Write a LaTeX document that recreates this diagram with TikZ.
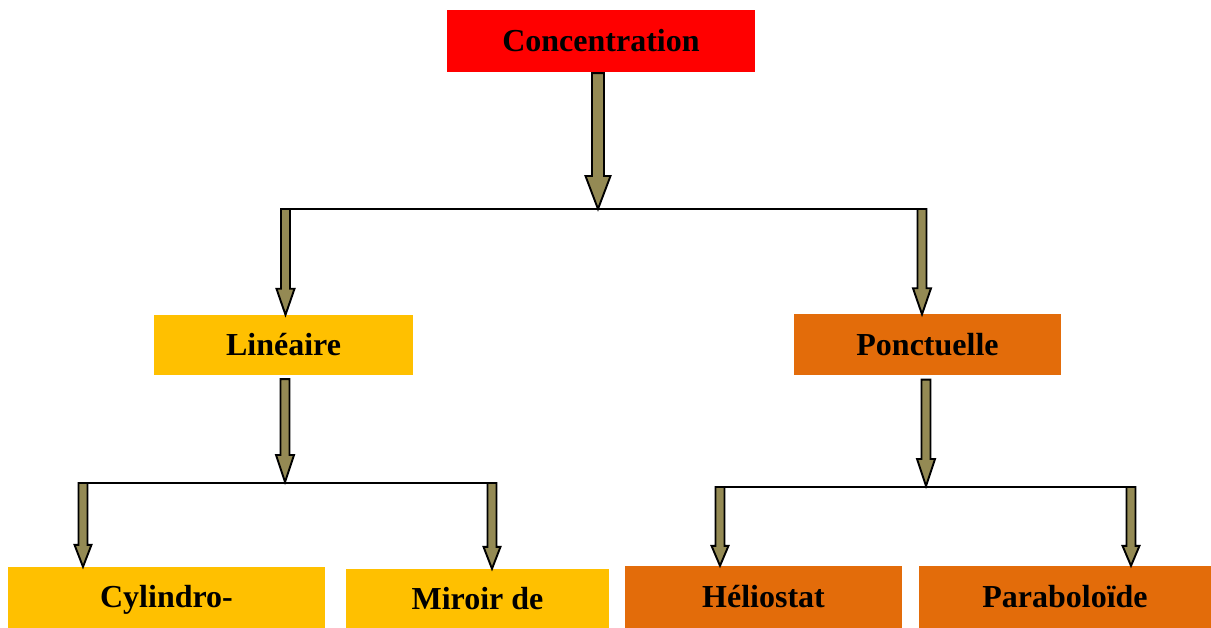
\documentclass[tikz,border=0pt]{standalone}
\usepackage{fontspec}
\setmainfont{Liberation Serif}
\usetikzlibrary{calc}
\definecolor{cred}{HTML}{FF0000}
\definecolor{cyel}{HTML}{FFC000}
\definecolor{corg}{HTML}{E36C0A}
\definecolor{olv}{HTML}{948A54}
\tikzset{
  box/.style={draw=none, inner sep=0pt, font=\fontsize{32}{38}\selectfont\bfseries},
  bar/.style={draw=black, line width=2.4pt},
  fatarrow/.style={fill=olv, draw=black, line width=1.9pt, line join=miter},
}
% vertical fat arrow: from, to, half shaft, half head, head length
\newcommand{\vfat}[5]{%
  \path[fatarrow] let \p1=(#1), \p2=(#2) in
    (\x1-#3,\y1) -- (\x1-#3,\y2+#5) -- (\x1-#4,\y2+#5) -- (\x1,\y2)
    -- (\x1+#4,\y2+#5) -- (\x1+#3,\y2+#5) -- (\x1+#3,\y1) -- cycle;}
\begin{document}
\begin{tikzpicture}[x=1pt,y=-1pt]
\useasboundingbox (0,0) rectangle (1211,628);
\clip (0,0) rectangle (1211,628);
% boxes
\node[box, fill=cred, minimum width=308pt, minimum height=62pt] (conc) at (601,41) {Concentration};
\node[box, fill=cyel, minimum width=259pt, minimum height=60pt] (lin) at (283.5,345) {Linéaire};
\node[box, fill=corg, minimum width=267pt, minimum height=61pt] (pon) at (927.5,345) {Ponctuelle};
\node[box, fill=cyel, minimum width=317pt, minimum height=66pt] (cyl) at (166.5,600) {Cylindro-};
\node[box, fill=cyel, minimum width=263pt, minimum height=60pt] (mir) at (477.5,599) {Miroir de};
\node[box, fill=corg, minimum width=277pt, minimum height=62pt] (hel) at (763.5,597) {Héliostat};
\node[box, fill=corg, minimum width=292pt, minimum height=62pt] (par) at (1065,597) {Paraboloïde};
% bars
\coordinate (b1m) at (598,209);
\coordinate (b1l) at (281,209);
\coordinate (b1r) at (925,209);
\coordinate (b1a) at (285.5,209);
\coordinate (b1b) at (922,209);
\coordinate (b2m) at (285,482);
\coordinate (b2l) at (78,483);
\coordinate (b2r) at (497,483);
\coordinate (b2a) at (83,483);
\coordinate (b2b) at (492,483);
\coordinate (b3m) at (926,486);
\coordinate (b3l) at (717,487);
\coordinate (b3r) at (1133,487);
\coordinate (b3a) at (720,487);
\coordinate (b3b) at (1131,487);
\draw[bar] (b1l) -- (b1r);
\draw[bar] (b2l) -- (b2r);
\draw[bar] (b3l) -- (b3r);
% arrows
\vfat{$(conc.south -| b1m)+(0,1)$}{b1m}{6pt}{12.5pt}{33pt}
\vfat{b1a}{lin.north -| b1a}{4.5pt}{9pt}{26pt}
\vfat{b1b}{pon.north -| b1b}{4.5pt}{9pt}{26pt}
\vfat{$(lin.south -| b2m)+(0,4)$}{b2m}{4.5pt}{9pt}{27pt}
\vfat{$(pon.south -| b3m)+(0,4)$}{b3m}{4.5pt}{9pt}{27pt}
\vfat{b2a}{cyl.north -| b2a}{4.5pt}{8.5pt}{22pt}
\vfat{b2b}{mir.north -| b2b}{4.5pt}{8.5pt}{22pt}
\vfat{b3a}{hel.north -| b3a}{4.5pt}{8.5pt}{20pt}
\vfat{b3b}{par.north -| b3b}{4.5pt}{8.5pt}{20pt}
\end{tikzpicture}
\end{document}
